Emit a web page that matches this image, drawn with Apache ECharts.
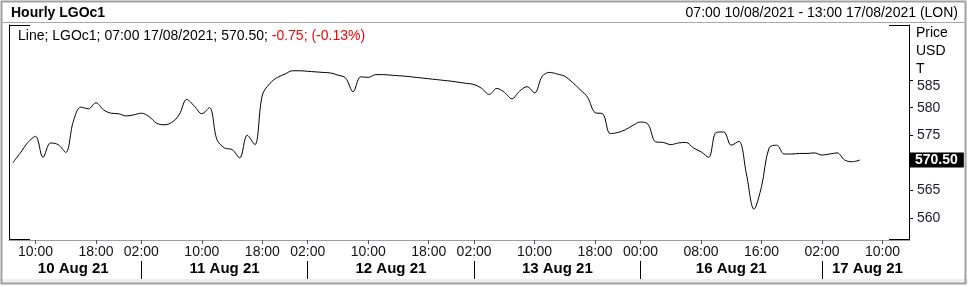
<!DOCTYPE html>
<html>
<head>
<meta charset="utf-8">
<script src="https://cdn.jsdelivr.net/npm/echarts@6/dist/echarts.min.js"></script>
<style>
html,body{margin:0;padding:0;background:#fff;}
#chart{width:968px;height:286px;}
</style>
</head>
<body>
<div id="chart"></div>
<script>
// ---- data ----
const dayNames = ['10 Aug 21', '11 Aug 21', '12 Aug 21', '13 Aug 21', '16 Aug 21', '17 Aug 21'];
const dayFirstHour = [7, 2, 2, 2, 0, 2];
const dayLastHour = [23, 23, 23, 23, 23, 13];
const timeTickIdx = [3, 11, 17, 25, 33, 39, 47, 55, 61, 69, 77, 83, 91, 99, 107, 115];
const dateLabelIdx = [8, 28, 50, 72, 95, 113];
const dateSepIdx = [17, 39, 61, 83, 107];
const prices = [
  570.0, 571.8, 573.7, 574.8, 571.0, 573.6, 573.3, 571.9, 577.5, 580.1,
  579.8, 580.9, 579.6, 579.0, 578.9, 578.5, 578.7, 579.0, 578.4, 577.2,
  576.9, 577.3, 578.7, 581.5, 580.3, 578.9, 580.0, 574.2, 572.7, 572.4,
  570.9, 575.0, 573.3, 582.3, 584.4, 585.5, 586.1, 586.7, 586.7, 586.6,
  586.5, 586.4, 586.3, 585.9, 585.4, 582.9, 585.6, 585.5, 586.0, 586.0,
  585.9, 585.8, 585.7, 585.55, 585.4, 585.25, 585.1, 584.95, 584.8, 584.6,
  584.4, 584.2, 583.5, 582.4, 583.5, 582.8, 581.6, 583.0, 583.8, 582.7,
  585.7, 586.4, 586.1, 585.7, 584.6, 583.3, 581.9, 579.1, 578.9, 575.3,
  575.5, 576.0, 576.8, 577.4, 577.0, 573.8, 573.7, 573.3, 573.6, 573.7,
  572.7, 572.0, 571.0, 575.5, 575.6, 573.2, 573.9, 568.0, 561.6, 565.7,
  572.7, 573.2, 571.6, 571.6, 571.7, 571.7, 571.8, 571.4, 571.6, 571.8,
  570.5, 570.2, 570.5
];
const yLabelValues = [560, 565, 575, 580, 585];
const yTickValues = [560, 565, 570, 575, 580, 585];
const yMin = 556, yMax = 595;
const lastValue = prices[prices.length - 1];
const changeAbs = '-0.75';
const changePct = '(-0.13%)';
const titleText = 'Hourly LGOc1';
const rangeText = '07:00 10/08/2021 - 13:00 17/08/2021 (LON)';
const infoText = 'Line; LGOc1; 07:00 17/08/2021; ' + lastValue.toFixed(2) + '; ';
const unitText = 'Price\nUSD\nT';

// categories: one per trading hour
const categories = [];
dayNames.forEach((d, k) => {
  for (let h = dayFirstHour[k]; h <= dayLastHour[k]; h++) {
    categories.push(d + ' ' + String(h).padStart(2, '0') + ':00');
  }
});

const FONT = 'Liberation Sans, Arial, sans-serif';
const chart = echarts.init(document.getElementById('chart'), null, {renderer: 'canvas'});

chart.setOption({
  animation: false,
  backgroundColor: '#fff',
  title: [
    {text: titleText, left: 11, top: 6, padding: 0,
     textStyle: {fontFamily: FONT, fontSize: 14, fontWeight: 'bold', color: '#000'}},
    {text: rangeText, right: 10, top: 6, padding: 0,
     textStyle: {fontFamily: FONT, fontSize: 14, fontWeight: 'normal', color: '#000'}},
    {text: '{a|' + infoText + '}{b|' + changeAbs + '; ' + changePct + '}', left: 18, top: 29, padding: 0,
     textStyle: {fontFamily: FONT, fontSize: 14, fontWeight: 'normal',
       rich: {a: {fontFamily: FONT, fontSize: 14, color: '#000'},
              b: {fontFamily: FONT, fontSize: 14, color: '#ff0000'}}}}
  ],
  graphic: [
    {type: 'rect', shape: {x: 0, y: 279, width: 968, height: 5}, style: {fill: '#eeeeee'}, silent: true, z: -1},
    {type: 'rect', shape: {x: 1.5, y: 1.5, width: 964, height: 282}, style: {fill: null, stroke: '#a0a0a0', lineWidth: 2}, silent: true},
    {type: 'line', shape: {x1: 2, y1: 22.5, x2: 966, y2: 22.5}, style: {stroke: '#a8a8b4', lineWidth: 1}, silent: true},
    {type: 'line', shape: {x1: 9, y1: 25.5, x2: 30, y2: 25.5}, style: {stroke: '#000', lineWidth: 1}, silent: true},
    {type: 'line', shape: {x1: 889, y1: 25.5, x2: 909, y2: 25.5}, style: {stroke: '#000', lineWidth: 1}, silent: true},
    {type: 'line', shape: {x1: 9, y1: 239.5, x2: 30, y2: 239.5}, style: {stroke: '#000', lineWidth: 1}, silent: true, z: 10},
    {type: 'line', shape: {x1: 889, y1: 239.5, x2: 909, y2: 239.5}, style: {stroke: '#000', lineWidth: 1}, silent: true, z: 10},
    {type: 'text', left: 916, top: 24, silent: true,
     style: {text: unitText, fontFamily: FONT, fontSize: 14, lineHeight: 18, fill: '#000'}}
  ],
  grid: {left: 9, right: 59, top: 25, bottom: 46, containLabel: false},
  xAxis: [
    {
      type: 'category', data: categories, boundaryGap: true, position: 'bottom',
      axisLine: {show: true, lineStyle: {color: '#9c9cab', width: 1}},
      axisTick: {show: true, alignWithLabel: true, length: 4,
        interval: (i) => timeTickIdx.includes(i), lineStyle: {color: '#555'}},
      axisLabel: {show: true, interval: (i) => timeTickIdx.includes(i),
        formatter: (v) => v.slice(-5), fontFamily: FONT, fontSize: 14, color: '#111', margin: 5},
      splitLine: {show: false}
    },
    {
      type: 'category', data: categories, boundaryGap: true, position: 'bottom', offset: 21,
      axisLine: {show: false},
      axisTick: {show: true, alignWithLabel: true, length: 18,
        interval: (i) => dateSepIdx.includes(i), lineStyle: {color: '#000'}},
      axisLabel: {show: true, interval: (i) => dateLabelIdx.includes(i),
        formatter: (v) => v.slice(0, 9), fontFamily: FONT, fontSize: 15, fontWeight: 'bold', color: '#000', margin: 0},
      splitLine: {show: false}
    }
  ],
  yAxis: [
    {
      type: 'value', position: 'right', min: yMin, max: yMax,
      axisLine: {show: true, lineStyle: {color: '#000', width: 1}},
      axisTick: {show: true, length: 4, inside: false, customValues: yTickValues, lineStyle: {color: '#000'}},
      axisLabel: {show: true, customValues: yLabelValues, margin: 8,
        fontFamily: FONT, fontSize: 14, color: '#1a1a2e',
        formatter: (v) => v === 585 ? '{s|' + v + '}' : String(v),
        rich: {s: {fontFamily: FONT, fontSize: 14, color: '#1a1a2e', padding: [13, 0, 0, 0]}}},
      splitLine: {show: false}
    },
    {
      type: 'value', position: 'left', min: yMin, max: yMax,
      axisLine: {show: true, lineStyle: {color: '#000', width: 1}},
      axisTick: {show: false}, axisLabel: {show: false}, splitLine: {show: false}
    },
    {
      type: 'value', position: 'right', min: yMin, max: yMax,
      axisLine: {show: false}, axisTick: {show: false}, splitLine: {show: false},
      axisLabel: {show: true, customValues: [lastValue], margin: 0,
        formatter: (v) => v.toFixed(2),
        backgroundColor: '#000', color: '#fff', fontFamily: FONT, fontSize: 14,
        fontWeight: 'bold', lineHeight: 14, padding: [1, 6, 0, 6]}
    }
  ],
  series: [
    {
      type: 'line', xAxisIndex: 0, yAxisIndex: 0, data: prices,
      smooth: 0.35, symbol: 'none', showSymbol: false,
      lineStyle: {color: '#000', width: 1}
    }
  ]
});
</script>
</body>
</html>
